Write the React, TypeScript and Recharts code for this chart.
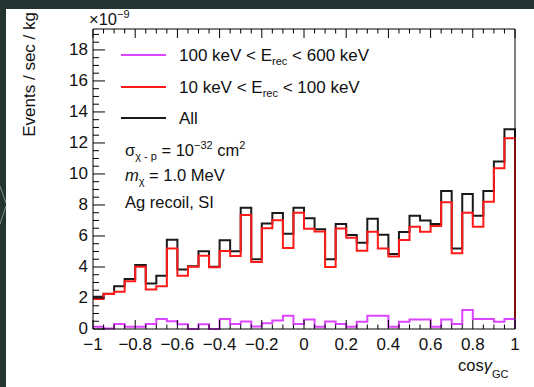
import React from 'react'
import { LineChart, Line, XAxis, YAxis } from 'recharts'

// left edges of the 40 bins in cos(gamma_GC)
const binEdges = [
  -1, -0.95, -0.9, -0.85, -0.8, -0.75, -0.7, -0.65, -0.6, -0.55,
  -0.5, -0.45, -0.4, -0.35, -0.3, -0.25, -0.2, -0.15, -0.1, -0.05,
  0, 0.05, 0.1, 0.15, 0.2, 0.25, 0.3, 0.35, 0.4, 0.45,
  0.5, 0.55, 0.6, 0.65, 0.7, 0.75, 0.8, 0.85, 0.9, 0.95,
]

// rates in units of 1e-9 events / sec / kg
const allRecoils = [
  2.08, 2.28, 2.75, 3.22, 4.13, 2.93, 3.43, 5.76, 3.83, 4.05,
  5.02, 4.02, 5.72, 5.02, 7.82, 4.5, 6.81, 7.48, 6.15, 7.82,
  7.14, 6.44, 4.5, 6.78, 6.06, 5.57, 7.11, 6.08, 4.84, 6.26,
  7.31, 7.0, 6.77, 8.9, 5.2, 8.7, 7.31, 8.9, 10.8, 12.88,
]
const lowRecoils = [
  1.93, 2.25, 2.4, 3.08, 4.02, 2.55, 2.75, 5.2, 3.43, 4.02,
  4.72, 3.99, 5.03, 4.71, 7.35, 4.32, 6.5, 7.02, 5.23, 7.5,
  6.47, 6.29, 4.0, 6.48, 5.88, 5.05, 6.27, 5.2, 4.68, 5.74,
  6.6, 6.28, 6.65, 8.17, 4.88, 7.5, 6.6, 8.2, 10.37, 12.3,
]
const highRecoils = [
  0.14, 0.03, 0.33, 0.15, 0.15, 0.33, 0.64, 0.5, 0.3, 0.0,
  0.3, 0.0, 0.64, 0.33, 0.48, 0.16, 0.37, 0.55, 0.85, 0.33,
  0.62, 0.14, 0.48, 0.32, 0.14, 0.47, 0.85, 0.85, 0.14, 0.47,
  0.62, 0.62, 0.14, 0.62, 0.32, 1.23, 0.64, 0.64, 0.47, 0.64,
]

const xTickValues = Array.from({ length: 41 }, (_, i) => Math.round((-1 + i * 0.05) * 100) / 100)
const yTickValues = Array.from({ length: 39 }, (_, i) => i * 0.5)
const Y_MAX = 19.35

const rows = binEdges.map((x, i) => ({ x, all: allRecoils[i], low: lowRecoils[i], high: highRecoils[i] }))
rows.push({ x: 1, all: 0, low: 0, high: 0 })

const FONT = "'Liberation Sans', Arial, Helvetica, sans-serif"
const BLACK = '#1a1a1a'
const RED = '#ff1a1a'
const MAGENTA = '#dd44ff'

const isMajor = (v: number, step: number) => Math.abs(v / step - Math.round(v / step)) < 1e-6
const fmt = (v: number) => (v < -1e-9 ? '\u2212' : '') + String(Math.abs(Math.round(v * 100) / 100))

function BottomTick({ x, y, payload }: any) {
  const major = isMajor(payload.value, 0.2)
  return (
    <g>
      <line x1={x} y1={y} x2={x} y2={y - (major ? 9 : 4.5)} stroke="#000" />
      {major && (
        <text x={x} y={y + 21} textAnchor="middle" fontSize={17} fontFamily={FONT} fill="#111">
          {fmt(payload.value)}
        </text>
      )}
    </g>
  )
}

function TopTick({ x, y, payload }: any) {
  const major = isMajor(payload.value, 0.2)
  return <line x1={x} y1={y} x2={x} y2={y + (major ? 9 : 4.5)} stroke="#000" />
}

function LeftTick({ x, y, payload }: any) {
  const major = isMajor(payload.value, 2)
  return (
    <g>
      <line x1={x} y1={y} x2={x + (major ? 12 : 6)} y2={y} stroke="#000" />
      {major && (
        <text x={x - 5} y={y + 5} textAnchor="end" fontSize={17} fontFamily={FONT} fill="#111">
          {fmt(payload.value)}
        </text>
      )}
    </g>
  )
}

function RightTick({ x, y, payload }: any) {
  const major = isMajor(payload.value, 2)
  return <line x1={x} y1={y} x2={x - (major ? 12 : 6)} y2={y} stroke="#000" />
}

const legendItems = [
  { color: MAGENTA, y: 55, pre: '100 keV < E', sub: 'rec', post: ' < 600 keV' },
  { color: RED, y: 87, pre: '10 keV < E', sub: 'rec', post: ' < 100 keV' },
  { color: BLACK, y: 118, pre: 'All', sub: '', post: '' },
]

export default function App() {
  return (
    <div style={{ position: 'absolute', left: 0, top: 0, width: 534, height: 387, background: '#243531', overflow: 'hidden' }}>
      <div style={{ position: 'absolute', left: 6, top: 9, width: 528, height: 378, background: '#fff' }} />
      <div style={{ position: 'absolute', left: 0, top: 0 }}>
        <LineChart width={534} height={387} data={rows} margin={{ top: 0, right: 0, bottom: 0, left: 0 }}>
          <XAxis
            dataKey="x"
            type="number"
            domain={[-1, 1]}
            ticks={xTickValues}
            interval={0}
            height={58}
            tickSize={0}
            tickMargin={0}
            tickLine={false}
            axisLine={{ stroke: '#000' }}
            tick={<BottomTick />}
          />
          <XAxis
            xAxisId="top"
            orientation="top"
            dataKey="x"
            type="number"
            domain={[-1, 1]}
            ticks={xTickValues}
            interval={0}
            height={29}
            tickSize={0}
            tickMargin={0}
            tickLine={false}
            axisLine={{ stroke: '#000' }}
            tick={<TopTick />}
          />
          <YAxis
            domain={[0, Y_MAX]}
            ticks={yTickValues}
            interval={0}
            width={93}
            tickSize={0}
            tickMargin={0}
            tickLine={false}
            axisLine={{ stroke: '#000' }}
            tick={<LeftTick />}
          />
          <YAxis
            yAxisId="right"
            orientation="right"
            domain={[0, Y_MAX]}
            ticks={yTickValues}
            interval={0}
            width={19}
            tickSize={0}
            tickMargin={0}
            tickLine={false}
            axisLine={{ stroke: '#000' }}
            tick={<RightTick />}
          />
          <Line type="stepAfter" dataKey="all" stroke={BLACK} strokeWidth={2} dot={false} isAnimationActive={false} />
          <Line type="stepAfter" dataKey="low" stroke={RED} strokeWidth={2} dot={false} isAnimationActive={false} />
          <Line type="stepAfter" dataKey="high" stroke={MAGENTA} strokeWidth={2} dot={false} isAnimationActive={false} />
        </LineChart>
      </div>
      <svg width={534} height={387} style={{ position: 'absolute', left: 0, top: 0, pointerEvents: 'none' }} fontFamily={FONT} fill="#111">
        <line x1={0} y1={186} x2={6} y2={203} stroke="#7f8f8b" />
        <line x1={6} y1={206} x2={0} y2={224} stroke="#7f8f8b" />
        <text transform="translate(35,12) rotate(-90)" textAnchor="end" fontSize={17}>
          Events / sec / kg
        </text>
        <text x={89} y={25} fontSize={16.5}>
          ×10<tspan fontSize={11} dy={-7}>{'\u2212'}9</tspan>
        </text>
        {legendItems.map((item) => (
          <g key={item.pre}>
            <line x1={121} y1={item.y} x2={166} y2={item.y} stroke={item.color} strokeWidth={2} />
            <text x={179} y={item.y + 6} fontSize={17}>
              {item.pre}
              {item.sub && (
                <>
                  <tspan fontSize={11} dy={4}>{item.sub}</tspan>
                  <tspan dy={-4}>{item.post}</tspan>
                </>
              )}
            </text>
          </g>
        ))}
        <text x={125} y={156} fontSize={16.5}>
          σ<tspan fontSize={11} dy={4}>χ - p</tspan>
          <tspan dy={-4}> = 10</tspan>
          <tspan fontSize={11} dy={-7}>−32</tspan>
          <tspan dy={7}> cm</tspan>
          <tspan fontSize={11} dy={-7}>2</tspan>
        </text>
        <text x={125} y={181} fontSize={16.5}>
          <tspan fontStyle="italic">m</tspan>
          <tspan fontSize={11} dy={4}>χ</tspan>
          <tspan dy={-4}> = 1.0 MeV</tspan>
        </text>
        <text x={125} y={208} fontSize={16.5}>
          Ag recoil, SI
        </text>
        <text x={458} y={371} fontSize={16.5}>
          cos<tspan fontStyle="italic">γ</tspan>
          <tspan fontSize={11} dy={7}>GC</tspan>
        </text>
      </svg>
    </div>
  )
}
